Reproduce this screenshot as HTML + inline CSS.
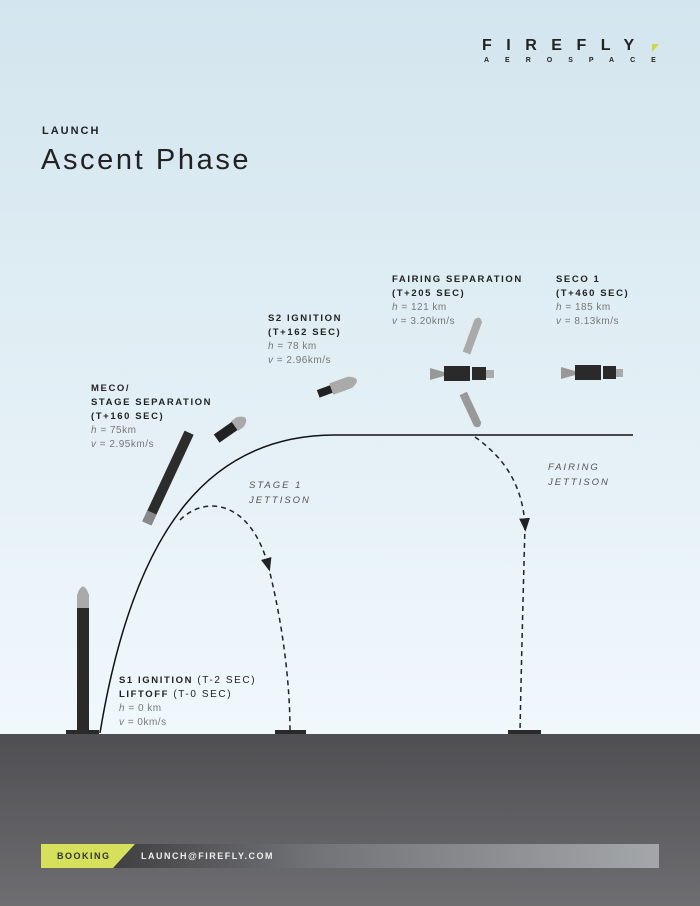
<!DOCTYPE html>
<html><head><meta charset="utf-8"><style>
body{margin:0;width:700px;height:906px;overflow:hidden;font-family:"Liberation Sans",sans-serif}
.t{position:absolute;font-size:9.5px;letter-spacing:1.6px;color:#222;font-weight:bold;line-height:14px}
.t span{font-weight:normal;color:#777;letter-spacing:0.5px;font-size:10px}
</style></head><body>
<svg width="700" height="906" style="position:absolute;left:0;top:0">
<defs>
<linearGradient id="sky" x1="0" y1="0" x2="0" y2="1"><stop offset="0" stop-color="#d3e5ee"/><stop offset="1" stop-color="#f0f8fc"/></linearGradient>
<linearGradient id="gr" x1="0" y1="0" x2="0" y2="1"><stop offset="0" stop-color="#4f4f52"/><stop offset="1" stop-color="#6e6e71"/></linearGradient>
<linearGradient id="bar" x1="0" y1="0" x2="1" y2="0"><stop offset="0" stop-color="#2c2c2e"/><stop offset="0.25" stop-color="#555558"/><stop offset="0.45" stop-color="#727477"/><stop offset="1" stop-color="#a4a7aa"/></linearGradient>
<marker id="ar" viewBox="0 0 10 10" refX="5" refY="5" markerWidth="9" markerHeight="11" orient="auto"><path d="M0,1 L10,5 L0,9 Z" fill="#222"/></marker>
</defs>
<rect width="700" height="734" fill="url(#sky)"/>
<rect y="734" width="700" height="172" fill="url(#gr)"/>
<path d="M100,733 C135,520 215,435 335,435 L633,435" fill="none" stroke="#111" stroke-width="1.5"/>
<path d="M180,520 C205,495 250,500 268,565" fill="none" stroke="#222" stroke-width="1.5" stroke-dasharray="5,4" marker-end="url(#ar)"/>
<path d="M268,565 C282,620 290,680 290,731" fill="none" stroke="#222" stroke-width="1.5" stroke-dasharray="5,4"/>
<path d="M475,437 C500,455 522,480 525,525" fill="none" stroke="#222" stroke-width="1.5" stroke-dasharray="5,4" marker-end="url(#ar)"/>
<path d="M525,525 C523,600 521,680 520,731" fill="none" stroke="#222" stroke-width="1.5" stroke-dasharray="5,4"/>
<rect x="66" y="730" width="33" height="4" fill="#2a2a2a"/>
<rect x="275" y="730" width="31" height="4" fill="#2a2a2a"/>
<rect x="508" y="730" width="33" height="4" fill="#2a2a2a"/>
<rect x="77" y="608" width="12" height="122" fill="#2a2a2a"/>
<path d="M77,608 L77,595 Q83,578 89,595 L89,608 Z" fill="#aaa"/>
<g transform="translate(168,478) rotate(25)"><rect x="-5" y="-50" width="10" height="100" fill="#2c2c2c"/><rect x="-5" y="38" width="10" height="12" fill="#888"/></g>
<g transform="translate(230,428) rotate(55)"><rect x="-4" y="-5" width="10" height="22" fill="#222"/><path d="M-5,-5 L-5,-12 Q1,-25 7,-12 L7,-5 Z" fill="#aaa"/></g>
<g transform="translate(337,387) rotate(-20)"><rect x="-20" y="-4" width="14" height="8" fill="#222"/><path d="M-6,-6 L14,-6 Q28,0 14,6 L-6,6 Z" fill="#aaa"/></g>
<rect x="444" y="366" width="26" height="15" fill="#2a2a2a"/><rect x="472" y="367" width="14" height="13" fill="#2a2a2a"/><path d="M430,368 L444,372 L444,376 L430,380 Z" fill="#999"/><rect x="486" y="370" width="8" height="8" fill="#aaa"/>
<g transform="translate(472,338) rotate(20)"><path d="M-4,-18 Q0,-25 4,-18 L4,16 L-4,16 Z" fill="#aaa"/></g>
<g transform="translate(470,408) rotate(-25)"><path d="M-4,-16 L4,-16 L4,18 Q0,24 -4,18 Z" fill="#999"/></g>
<rect x="575" y="365" width="26" height="15" fill="#2a2a2a"/><rect x="603" y="366" width="13" height="13" fill="#2a2a2a"/><path d="M561,367 L575,371 L575,375 L561,379 Z" fill="#999"/><rect x="616" y="369" width="7" height="8" fill="#aaa"/>
<rect x="41" y="844" width="618" height="24" fill="url(#bar)"/>
<path d="M41,844 L135,844 L113,868 L41,868 Z" fill="#d6e05a"/>
<path d="M652,44 L659,44 L652,52 Z" fill="#c8d94a"/>
</svg>
<div style="position:absolute;left:482px;top:37px;font-size:16px;font-weight:bold;letter-spacing:14.5px;color:#222">FIREFLY</div>
<div style="position:absolute;left:484px;top:57px;font-size:7px;font-weight:bold;letter-spacing:16px;color:#222">AEROSPACE</div>
<div style="position:absolute;left:42px;top:125px;font-size:11px;font-weight:bold;letter-spacing:2px;color:#222">LAUNCH</div>
<div style="position:absolute;left:41px;top:144px;font-size:29px;letter-spacing:2.6px;color:#222">Ascent Phase</div>
<div class="t" style="left:91px;top:382px">MECO/<br>STAGE SEPARATION<br>(T+160 SEC)<br><span><i>h</i> = 75km<br><i>v</i> = 2.95km/s</span></div>
<div class="t" style="left:268px;top:312px">S2 IGNITION<br>(T+162 SEC)<br><span><i>h</i> = 78 km<br><i>v</i> = 2.96km/s</span></div>
<div class="t" style="left:392px;top:273px">FAIRING SEPARATION<br>(T+205 SEC)<br><span><i>h</i> = 121 km<br><i>v</i> = 3.20km/s</span></div>
<div class="t" style="left:556px;top:273px">SECO 1<br>(T+460 SEC)<br><span><i>h</i> = 185 km<br><i>v</i> = 8.13km/s</span></div>
<div class="t" style="left:119px;top:674px">S1 IGNITION <span style="color:#222;letter-spacing:1.6px">(T-2 SEC)</span><br>LIFTOFF <span style="color:#222;letter-spacing:1.6px">(T-0 SEC)</span><br><span><i>h</i> = 0 km<br><i>v</i> = 0km/s</span></div>
<div style="position:absolute;left:249px;top:478px;font-size:9.5px;font-style:italic;letter-spacing:2px;color:#555;line-height:15px">STAGE 1<br>JETTISON</div>
<div style="position:absolute;left:548px;top:460px;font-size:9.5px;font-style:italic;letter-spacing:2px;color:#555;line-height:15px">FAIRING<br>JETTISON</div>
<div style="position:absolute;left:57px;top:851px;font-size:9px;font-weight:bold;letter-spacing:1.5px;color:#333">BOOKING</div>
<div style="position:absolute;left:141px;top:851px;font-size:9px;font-weight:bold;letter-spacing:1.5px;color:#eee">LAUNCH@FIREFLY.COM</div>
</body></html>
